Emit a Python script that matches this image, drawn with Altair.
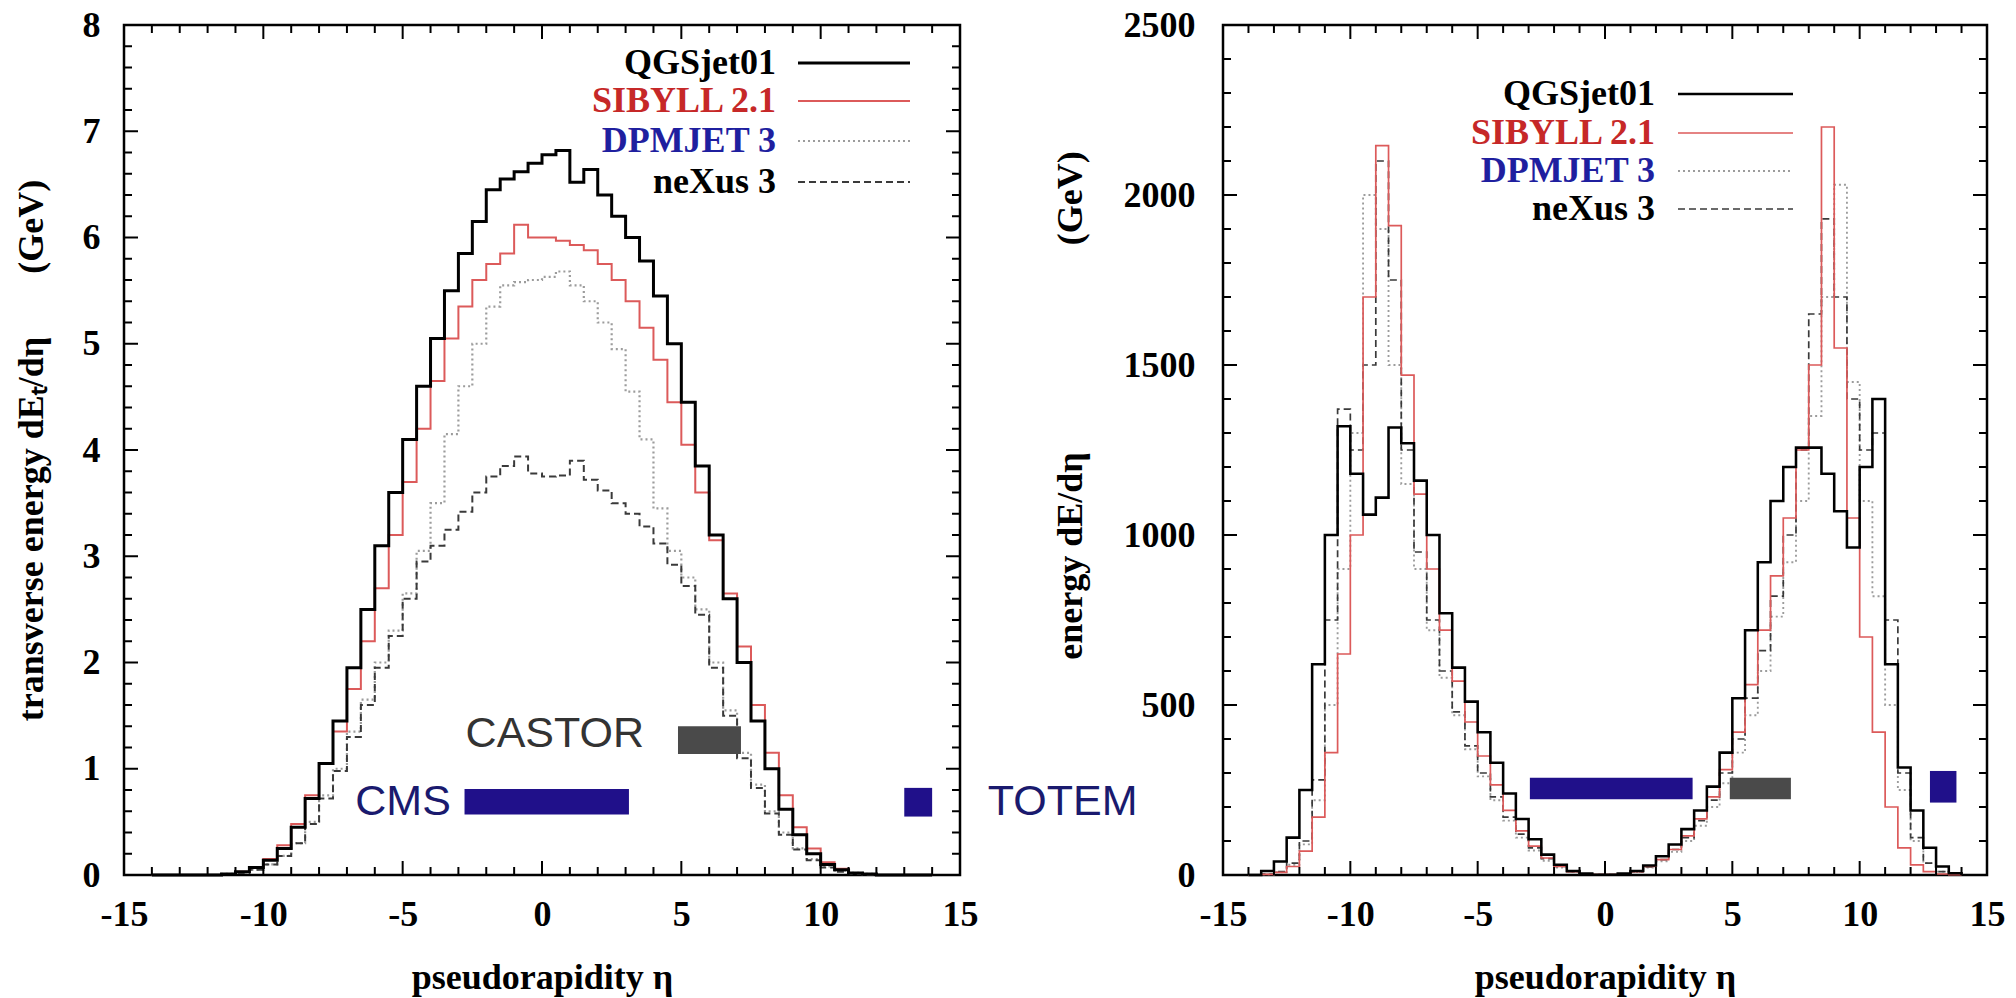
import altair as alt
import pandas as pd

# ---------------- data ----------------
BIN_LEFT = [-14.0 + 0.5 * i for i in range(56)]   # histogram bin left edges in eta
BIN_END = 14.0

SERIES = ["QGSjet01", "SIBYLL 2.1", "DPMJET 3", "neXus 3"]

# left panel: transverse energy dEt/deta (GeV)
ET_QGSJET = [0, 0, 0, 0, 0,
             0.01, 0.03, 0.07, 0.14, 0.25, 0.45, 0.72, 1.05, 1.45, 1.95,
             2.5, 3.1, 3.6, 4.1, 4.6, 5.05, 5.5, 5.85, 6.15, 6.45,
             6.55, 6.62, 6.7, 6.78, 6.82, 6.52, 6.64, 6.4, 6.2, 6.0,
             5.78, 5.45, 5.0, 4.45, 3.85, 3.2, 2.6, 2.0, 1.45, 1.0,
             0.62, 0.38, 0.2, 0.1, 0.05, 0.02, 0.01,
             0, 0, 0, 0]
ET_SIBYLL = [0, 0, 0, 0, 0,
             0.01, 0.03, 0.07, 0.15, 0.28, 0.48, 0.75, 1.05, 1.35, 1.75,
             2.2, 2.7, 3.2, 3.7, 4.2, 4.65, 5.05, 5.35, 5.6, 5.75,
             5.85, 6.12, 6.0, 6.0, 5.97, 5.93, 5.88, 5.75, 5.6, 5.4,
             5.15, 4.85, 4.45, 4.05, 3.6, 3.15, 2.65, 2.15, 1.6, 1.15,
             0.75, 0.45, 0.25, 0.12, 0.06, 0.02, 0.01,
             0, 0, 0, 0]
ET_DPMJET = [0, 0, 0, 0, 0,
             0.01, 0.02, 0.05, 0.1, 0.18, 0.3, 0.5, 0.75, 1.0, 1.35,
             1.65, 2.0, 2.3, 2.65, 3.05, 3.5, 4.15, 4.6, 5.0, 5.35,
             5.55, 5.58, 5.6, 5.63, 5.68, 5.55, 5.4, 5.2, 4.95, 4.55,
             4.1, 3.45, 3.05, 2.8, 2.5, 2.0, 1.55, 1.15, 0.85, 0.6,
             0.4, 0.25, 0.15, 0.08, 0.04, 0.02, 0.01,
             0, 0, 0, 0]
ET_NEXUS = [0, 0, 0, 0, 0,
            0.01, 0.02, 0.05, 0.1, 0.18, 0.3, 0.48, 0.72, 0.98, 1.3,
            1.6, 1.95, 2.25, 2.6, 2.95, 3.1, 3.25, 3.42, 3.6, 3.75,
            3.85, 3.94, 3.78, 3.75, 3.76, 3.9, 3.72, 3.62, 3.5, 3.4,
            3.28, 3.12, 2.92, 2.72, 2.45, 1.95, 1.5, 1.1, 0.82, 0.58,
            0.38, 0.24, 0.14, 0.07, 0.03, 0.01, 0.0,
            0, 0, 0, 0]

# right panel: energy dE/deta (GeV)
E_QGSJET = [0, 12, 40, 110, 250, 620, 1000, 1320, 1180, 1060,
            1110, 1316, 1270, 1160, 1000, 770, 610, 510, 420, 330,
            240, 165, 105, 60, 30, 12, 4, 1, 1, 4,
            12, 28, 55, 90, 135, 190, 260, 360, 520, 720,
            920, 1100, 1200, 1257, 1257, 1180, 1070, 963, 1200, 1400,
            620, 316, 190, 80, 25, 5]
E_SIBYLL = [0, 2, 8, 25, 70, 170, 360, 650, 1000, 1700,
            2145, 1910, 1470, 1120, 900, 720, 570, 450, 350, 265,
            190, 130, 85, 50, 25, 10, 3, 1, 1, 3,
            10, 25, 45, 75, 115, 165, 230, 310, 420, 560,
            720, 880, 1050, 1250, 1500, 2200, 1550, 1050, 700, 420,
            200, 80, 30, 10, 3, 1]
E_DPMJET = [0, 2, 8, 30, 90, 220, 500, 900, 1300, 2000,
            1900, 1500, 1150, 900, 720, 580, 470, 370, 290, 220,
            160, 110, 72, 42, 22, 9, 3, 1, 1, 3,
            9, 22, 40, 68, 100, 145, 200, 270, 360, 470,
            600, 760, 920, 1100, 1350, 1700, 2030, 1450, 1100, 820,
            500, 250, 100, 35, 10, 3]
E_NEXUS = [0, 3, 10, 35, 100, 280, 750, 1370, 1250, 1500,
           2100, 1750, 1250, 950, 750, 600, 480, 380, 300, 230,
           170, 120, 80, 48, 25, 10, 3, 1, 1, 3,
           10, 24, 45, 75, 110, 160, 220, 300, 400, 520,
           660, 820, 1000, 1250, 1650, 1930, 1700, 1400, 1250, 1300,
           750, 300, 110, 35, 10, 3]

# detector acceptance boxes
DET_L_ETA_LO = [-2.78, 4.88, 13.0]
DET_L_ETA_HI = [3.12, 7.14, 14.0]
DET_L_Y_LO = [0.57, 1.14, 0.55]
DET_L_Y_HI = [0.81, 1.40, 0.82]
DET_R_ETA_LO = [-2.95, 4.9, 12.76]
DET_R_ETA_HI = [3.44, 7.3, 13.8]
DET_R_Y_LO = [223, 223, 213]
DET_R_Y_HI = [286, 286, 306]
DET_COLORS = ["#20108a", "#4a4a4a", "#20108a"]

# tick values
X_MAJOR = list(range(-15, 16, 5))
X_MINOR = [v for v in range(-15, 16) if v % 5 != 0]
YL_MAJOR = list(range(0, 9))
YL_MINOR = [round(i * 0.2, 1) for i in range(41) if i % 5 != 0]
YR_MAJOR = list(range(0, 2501, 500))
YR_MINOR = [v for v in range(0, 2501, 100) if v % 500 != 0]

# ---------------- styles ----------------
SERIF = "Liberation Serif"
SANS = "Liberation Sans"
STYLE = {
    "QGSjet01": dict(color="#000000", strokeWidth=3.0),
    "SIBYLL 2.1": dict(color="#dc5a5a", strokeWidth=2.0),
    "DPMJET 3": dict(color="#9c9c9c", strokeWidth=2.2, strokeDash=[2, 3]),
    "neXus 3": dict(color="#3a3a3a", strokeWidth=2.0, strokeDash=[7, 4]),
}
LABEL_COLORS = {"QGSjet01": "#000000", "SIBYLL 2.1": "#c62828",
                "DPMJET 3": "#1f1f9f", "neXus 3": "#000000"}
DRAW_ORDER = ["DPMJET 3", "neXus 3", "SIBYLL 2.1", "QGSjet01"]

W_L, W_R, H = 836, 764, 850
XS = dict(domain=[-15, 15], nice=False, zero=False)


def axis(values, title, label_pad, title_pad, title_y=None):
    kw = dict(values=values, title=title, labelExpr="toString(datum.value)",
              ticks=False, domain=False, grid=False, labelPadding=label_pad,
              titlePadding=title_pad, labelFont=SERIF, labelFontWeight="bold",
              labelFontSize=36, titleFont=SERIF, titleFontWeight="bold",
              titleFontSize=36, labelColor="black", titleColor="black",
              labelFlush=False, labelOverlap=False)
    if title_y is not None:
        kw["titleY"] = title_y
    return alt.Axis(**kw)


def series_layers(values_by_name, yscale, xaxis, yaxis, lw_scale=1.0):
    out = []
    for k, name in enumerate(DRAW_ORDER):
        vals = values_by_name[name]
        df = pd.DataFrame({"eta": BIN_LEFT + [BIN_END], "val": list(vals) + [0.0]})
        st = dict(STYLE[name])
        st["strokeWidth"] = st["strokeWidth"] * lw_scale
        first = k == 0
        out.append(
            alt.Chart(df).mark_line(interpolate="step-after", **st).encode(
                x=alt.X("eta:Q", scale=alt.Scale(**XS), axis=xaxis if first else None),
                y=alt.Y("val:Q", scale=yscale, axis=yaxis if first else None),
            )
        )
    return out


def tick_layers(xmaj, xmin, ymaj, ymin, yscale, W):
    out = []
    for vals, L in ((xmaj, 14), (xmin, 8)):
        base = alt.Chart(pd.DataFrame({"t": vals})).mark_rule(color="black", strokeWidth=2)
        xe = alt.X("t:Q", scale=alt.Scale(**XS), axis=None)
        out.append(base.encode(x=xe, y=alt.value(H), y2=alt.value(H - L)))
        out.append(base.encode(x=xe, y=alt.value(0), y2=alt.value(L)))
    for vals, L in ((ymaj, 14), (ymin, 8)):
        base = alt.Chart(pd.DataFrame({"t": vals})).mark_rule(color="black", strokeWidth=2)
        ye = alt.Y("t:Q", scale=yscale, axis=None)
        out.append(base.encode(y=ye, x=alt.value(0), x2=alt.value(L)))
        out.append(base.encode(y=ye, x=alt.value(W), x2=alt.value(W - L)))
    return out


def det_layer(lo, hi, ylo, yhi, yscale):
    df = pd.DataFrame({"lo": lo, "hi": hi, "ylo": ylo, "yhi": yhi, "c": DET_COLORS})
    return alt.Chart(df).mark_rect().encode(
        x=alt.X("lo:Q", scale=alt.Scale(**XS), axis=None), x2="hi:Q",
        y=alt.Y("ylo:Q", scale=yscale, axis=None), y2="yhi:Q",
        color=alt.Color("c:N", scale=None),
    )


def legend_layers(text_x, line_x0, line_x1, row_y, lw_scale=1.0):
    out = []
    one = pd.DataFrame({"k": [0]})
    for name, y in zip(SERIES, row_y):
        out.append(alt.Chart(one).mark_text(text=name, align="right", baseline="middle",
                                            font=SERIF, fontWeight="bold", fontSize=36,
                                            color=LABEL_COLORS[name]).encode(
            x=alt.value(text_x), y=alt.value(y)))
        st = dict(STYLE[name])
        st["strokeWidth"] = st["strokeWidth"] * lw_scale
        out.append(alt.Chart(one).mark_rule(**st).encode(
            x=alt.value(line_x0), x2=alt.value(line_x1), y=alt.value(y)))
    return out


def text_layer(label, eta, yv, align, color, yscale):
    df = pd.DataFrame({"eta": [eta], "y": [yv]})
    return alt.Chart(df).mark_text(text=label, align=align, baseline="middle", font=SANS,
                                   fontSize=43, color=color).encode(
        x=alt.X("eta:Q", scale=alt.Scale(**XS), axis=None),
        y=alt.Y("y:Q", scale=yscale, axis=None))


# ---------------- left panel ----------------
ys_l = alt.Scale(domain=[0, 8], nice=False, zero=True)
nb = "\u00a0"
left_layers = series_layers(
    {"QGSjet01": ET_QGSJET, "SIBYLL 2.1": ET_SIBYLL, "DPMJET 3": ET_DPMJET, "neXus 3": ET_NEXUS},
    ys_l,
    axis(X_MAJOR, "pseudorapidity η", 22, 28),
    axis(YL_MAJOR, "transverse energy dEₜ/dη" + nb * 6 + " (GeV)", 24, 32),
)
left_layers.append(det_layer(DET_L_ETA_LO, DET_L_ETA_HI, DET_L_Y_LO, DET_L_Y_HI, ys_l))
left_layers.append(text_layer("CASTOR", 3.66, 1.33, "right", "#333333", ys_l))
left_layers.append(text_layer("CMS", -3.27, 0.69, "right", "#1a1a6e", ys_l))
left_layers.append(text_layer("TOTEM", 16.0, 0.69, "left", "#1a1a6e", ys_l))
left_layers += legend_layers(652, 674, 786, [38, 76, 116, 157])
left_layers += tick_layers(X_MAJOR, X_MINOR, YL_MAJOR, YL_MINOR, ys_l, W_L)
left = alt.layer(*left_layers).properties(width=W_L, height=H).resolve_axis(
    x="independent", y="independent")

# ---------------- right panel ----------------
ys_r = alt.Scale(domain=[0, 2500], nice=False, zero=True)
right_layers = series_layers(
    {"QGSjet01": E_QGSJET, "SIBYLL 2.1": E_SIBYLL, "DPMJET 3": E_DPMJET, "neXus 3": E_NEXUS},
    ys_r,
    axis(X_MAJOR, "pseudorapidity η", 22, 28),
    axis(YR_MAJOR, "energy dE/dη" + nb * 22 + " (GeV)", 28, 34, title_y=380),
    lw_scale=0.85,
)
right_layers.append(det_layer(DET_R_ETA_LO, DET_R_ETA_HI, DET_R_Y_LO, DET_R_Y_HI, ys_r))
right_layers += legend_layers(432, 455, 570, [69, 108, 146, 184], lw_scale=0.85)
right_layers += tick_layers(X_MAJOR, X_MINOR, YR_MAJOR, YR_MINOR, ys_r, W_R)
right = alt.layer(*right_layers).properties(width=W_R, height=H).resolve_axis(
    x="independent", y="independent")

chart = alt.hconcat(left, right, spacing=263, bounds="flush").properties(
    padding={"left": 11, "top": 5, "right": 0, "bottom": 0},
    background="white",
).configure_view(stroke="black", strokeWidth=2.5)

chart.save("out.html", embed_options={"renderer": "svg", "actions": False})
